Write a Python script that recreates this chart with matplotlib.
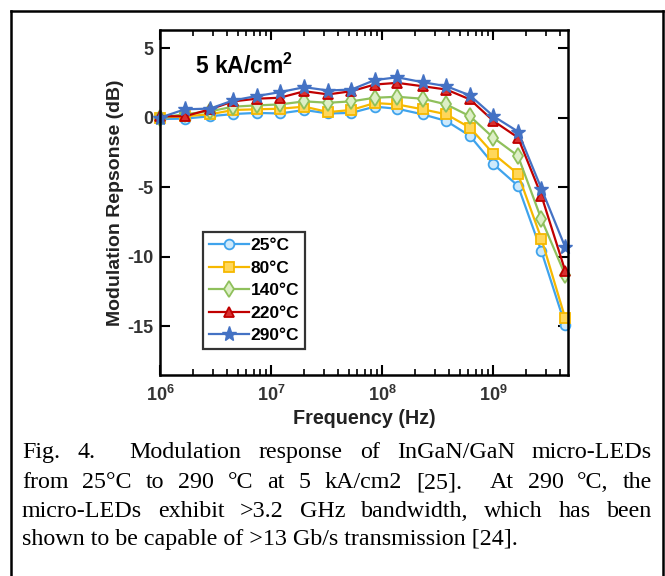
import matplotlib
matplotlib.use("Agg")
import matplotlib.pyplot as plt
from matplotlib.lines import Line2D
import numpy as np

plt.rcParams['font.family'] = ['Liberation Sans', 'DejaVu Sans']
plt.rcParams['mathtext.fontset'] = 'custom'
plt.rcParams['mathtext.rm'] = 'Liberation Sans:bold'
plt.rcParams['mathtext.bf'] = 'Liberation Sans:bold'
plt.rcParams['mathtext.it'] = 'Liberation Sans:bold'

# ---- data ----
freq_hz = [1.0e6, 1.68e6, 2.82e6, 4.57e6, 7.41e6, 1.20e7, 2.0e7, 3.27e7, 5.3e7,
           8.6e7, 1.37e8, 2.32e8, 3.8e8, 6.2e8, 1.01e9, 1.68e9, 2.73e9, 4.47e9]

resp_25C = [-0.1, -0.07, 0.1, 0.26, 0.34, 0.3, 0.55, 0.3, 0.34,
            0.79, 0.64, 0.24, -0.24, -1.31, -3.35, -4.9, -9.6, -14.9]
resp_80C = [0.0, 0.1, 0.24, 0.55, 0.6, 0.64, 0.79, 0.4, 0.55,
            1.05, 0.95, 0.6, 0.24, -0.72, -2.6, -4.05, -8.7, -14.4]
resp_140C = [0.0, 0.25, 0.45, 0.79, 0.88, 0.95, 1.17, 1.07, 1.17,
             1.43, 1.5, 1.36, 0.95, 0.1, -1.45, -2.75, -7.3, -11.3]
resp_220C = [0.1, 0.1, 0.6, 1.17, 1.36, 1.43, 1.9, 1.67, 1.9,
             2.38, 2.5, 2.26, 2.02, 1.31, -0.24, -1.43, -5.6, -11.0]
resp_290C = [0.0, 0.6, 0.65, 1.24, 1.55, 1.83, 2.19, 1.95, 2.02,
             2.7, 2.9, 2.55, 2.26, 1.6, 0.1, -1.0, -5.1, -9.3]

series_labels = ['25°C', '80°C', '140°C', '220°C', '290°C']
series_values = [resp_25C, resp_80C, resp_140C, resp_220C, resp_290C]

x_ticks = [1e6, 1e7, 1e8, 1e9]
x_ticklabels = [r'$\mathbf{10^{6}}$', r'$\mathbf{10^{7}}$', r'$\mathbf{10^{8}}$', r'$\mathbf{10^{9}}$']
y_ticks = [5, 0, -5, -10, -15]

caption_lines = [
    "Fig. 4.  Modulation response of InGaN/GaN micro-LEDs",
    "from 25°C to 290 °C at 5 kA/cm2 [25].  At 290 °C, the",
    "micro-LEDs exhibit >3.2 GHz bandwidth, which has been",
    "shown to be capable of >13 Gb/s transmission [24].",
]

# ---- styles ----
styles = [
    dict(color='#3FA3EC', marker='o', mfc='#CDE9FB', ms=7, mew=1.3),
    dict(color='#F6B800', marker='s', mfc='#FFD75A', ms=6.5, mew=1.3),
    dict(color='#8FC05C', marker='d', mfc='#DDEFC6', ms=8, mew=1.3),
    dict(color='#C00000', marker='^', mfc='#D83030', ms=7.5, mew=1.3),
    dict(color='#4472C4', marker='*', mfc='#4472C4', ms=11, mew=1.0),
]

W, H = 665, 576
fig = plt.figure(figsize=(W / 100, H / 100), dpi=100)

# outer frame
def fx(px): return px / W
def fy(py): return 1 - py / H
for xs, ys in [((11, 11), (11, 576)), ((11, 663), (11, 11)), ((663, 663), (11, 576))]:
    fig.add_artist(Line2D([fx(v) for v in xs], [fy(v) for v in ys], color='black', lw=1.8))

ax = fig.add_axes([fx(160), fy(375), fx(568) - fx(160), fy(30) - fy(375)])

for lab, vals, st in zip(series_labels, series_values, styles):
    ax.plot(freq_hz, vals, label=lab, lw=1.6, clip_on=False, **st)

ax.set_xscale('log')
ax.set_xlim(1e6, 10 ** 9.676)
ax.set_ylim(-18.5, 6.3)
ax.set_xticks(x_ticks)
ax.set_xticklabels(x_ticklabels)
ax.set_yticks(y_ticks)
ax.set_yticklabels([str(v) for v in y_ticks], fontweight='bold')
ax.xaxis.set_minor_locator(matplotlib.ticker.LogLocator(base=10, subs=np.arange(2, 10)))
ax.xaxis.set_minor_formatter(matplotlib.ticker.NullFormatter())
ax.tick_params(which='major', direction='in', length=7, width=1.5, top=True, right=True,
               labelsize=13, colors='black', labelcolor='#333333')
ax.tick_params(which='minor', direction='in', length=4, width=1.2, top=True, right=True)
ax.tick_params(axis='x', which='major', pad=7)
ax.tick_params(axis='y', which='major', pad=5)
for sp in ax.spines.values():
    sp.set_linewidth(1.8)

ax.set_xlabel('Frequency (Hz)', fontsize=14.2, fontweight='bold', color='#222222', labelpad=3)
ax.set_ylabel('Modulation Repsonse (dB)', fontsize=14, fontweight='bold', color='#222222', labelpad=2)

ax.text(0.086, 0.872, r'5 kA/cm$^{\mathbf{2}}$', transform=ax.transAxes, fontsize=16.5,
        fontweight='bold', va='baseline', ha='left')

leg = ax.legend(loc='upper left', bbox_to_anchor=(0.105, 0.414), borderaxespad=0,
                prop=dict(weight='bold', size=12.5), handlelength=2.3, handletextpad=0.1,
                labelspacing=0.42, borderpad=0.35, fancybox=False, frameon=True)
leg.get_frame().set_edgecolor('black')
leg.get_frame().set_linewidth(1.6)

# caption (justified)
cap_fs = 17.3
x0, x1 = 22, 652
baselines = [458, 488, 517, 545]
renderer = fig.canvas.get_renderer()
for i, (line, by) in enumerate(zip(caption_lines, baselines)):
    if i == len(caption_lines) - 1:
        fig.text(fx(x0), fy(by), line, fontsize=cap_fs, family='Liberation Serif', va='baseline', ha='left')
        continue
    words = line.split(' ')
    texts = []
    widths = []
    for w_ in words:
        t = fig.text(0, fy(by), w_, fontsize=cap_fs, family='Liberation Serif', va='baseline', ha='left')
        texts.append(t)
        widths.append(t.get_window_extent(renderer).width if w_ else 0.0)
    gap = (x1 - x0 - sum(widths)) / (len(words) - 1)
    cur = x0
    for t, wd in zip(texts, widths):
        t.set_x(fx(cur))
        cur += wd + gap

fig.savefig('out.png', dpi=100)
